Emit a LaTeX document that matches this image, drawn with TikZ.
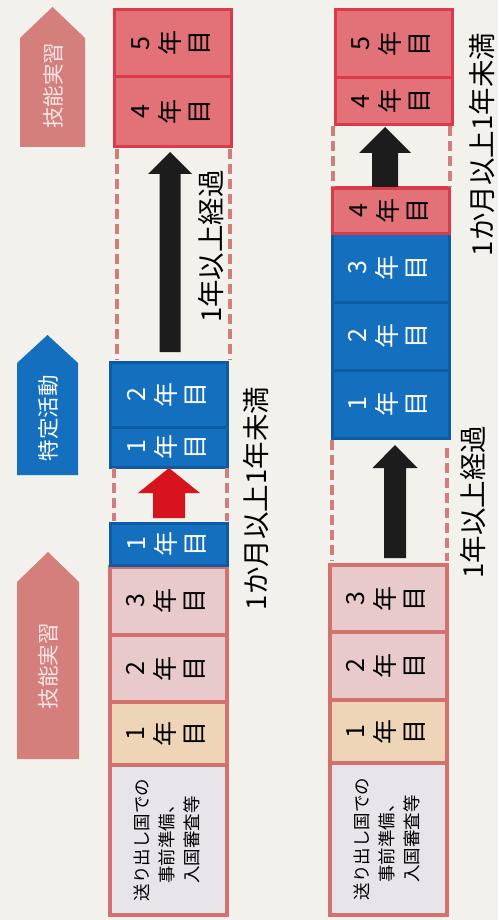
\documentclass[tikz,border=0pt]{standalone}
\usepackage{fontspec}
\setmainfont{Noto Sans CJK JP}
\usepackage{graphicx}
\usetikzlibrary{calc}
\definecolor{paper}{HTML}{F3F1EB}
\definecolor{redfill}{HTML}{E37178}
\definecolor{redline}{HTML}{DA3A4A}
\definecolor{bluefill}{HTML}{1470BE}
\definecolor{blueline}{HTML}{0D5AA5}
\definecolor{pinkfill}{HTML}{E8CACA}
\definecolor{salmon}{HTML}{D3716F}
\definecolor{beige}{HTML}{EFD5B8}
\definecolor{greyfill}{HTML}{E7E4EA}
\definecolor{rose}{HTML}{D47F7C}
\definecolor{roselight}{HTML}{F8E6E6}
\definecolor{dashcol}{HTML}{D27C7C}
\definecolor{redarrow}{HTML}{D7131E}
\definecolor{blackarrow}{HTML}{1C1C1C}
\newcommand{\yrfont}{\fontsize{25}{29}\selectfont}
\newcommand{\yr}[1]{\rotatebox{90}{\begin{tabular}{@{}c@{}}#1\\年\\目\end{tabular}}}
\newcommand{\rot}[1]{\rotatebox{90}{#1}}
% tip coordinate, base coordinate, shaft width, head width, head length, colour
\newcommand{\blockarrow}[6]{%
  \fill[#6] let \p1=(#1), \p2=(#2) in
    ({\x1-#3/2*1pt},\y2) -- ({\x1-#3/2*1pt},{\y1-#5*1pt}) -- ({\x1-#4/2*1pt},{\y1-#5*1pt})
    -- (\x1,\y1) -- ({\x1+#4/2*1pt},{\y1-#5*1pt}) -- ({\x1+#3/2*1pt},{\y1-#5*1pt})
    -- ({\x1+#3/2*1pt},\y2) -- cycle;}
\tikzset{
  box/.style={draw, inner sep=0pt, minimum width=117pt, font=\yrfont},
  redbox/.style={box, fill=redfill, draw=redline, line width=3pt, text=black},
  bluebox/.style={box, fill=bluefill, draw=blueline, line width=3pt, text=white},
  pinkbox/.style={box, fill=pinkfill, draw=salmon, line width=4.5pt, text=black},
  beigebox/.style={box, fill=beige, draw=salmon, line width=4.5pt, text=black},
  greybox/.style={box, fill=greyfill, draw=salmon, line width=4.5pt, text=black,
    font=\fontsize{17.5}{25}\selectfont},
  dashline/.style={draw=dashcol, line width=4.5pt, dash pattern=on 10pt off 5pt},
  sidelabel/.style={rotate=90, inner sep=0pt, font=\fontsize{27.5}{27.5}\selectfont, text=black},
  taglabel/.style={rotate=90, inner sep=0pt, font=\fontsize{21.5}{21.5}\selectfont, text=roselight},
}
\begin{document}
\begin{tikzpicture}[x=1pt,y=-1pt]
\fill[paper] (0,0) rectangle (498,920);
\useasboundingbox (0,0) rectangle (498,920);

% ---------- tag pentagons ----------
\fill[rose] (20,147) -- (20,38) -- (52.5,7) -- (85,38) -- (85,147) -- cycle;
\node[taglabel] (tagA) at (53,86) {技能実習};
\fill[bluefill] (17,475) -- (17,363) -- (47.5,335) -- (78,363) -- (78,475) -- cycle;
\node[taglabel, text=white] (tagB) at (48,418) {特定活動};
\fill[rose] (17,759) -- (17,582) -- (48,552) -- (79,582) -- (79,759) -- cycle;
\node[taglabel] (tagC) at (48,666) {技能実習};

% ---------- left column ----------
\node[greybox, minimum height=150pt] (Ls) at (168.5,840) {\rot{\begin{tabular}{@{}c@{}}送り出し国での\\事前準備、\\入国審査等\end{tabular}}};
\node[beigebox, minimum height=63pt] (L1) at (168.5,733.5) {\yr{1}};
\node[pinkbox, minimum height=67pt] (L2) at (168.5,668.5) {\yr{2}};
\node[pinkbox, minimum height=68pt] (L3) at (168.5,601) {\yr{3}};
\node[bluebox, minimum height=42pt] (Lb1) at (169,544) {\yr{1}};
\node[bluebox, minimum height=40pt] (LB1) at (169,447) {\yr{1}};
\node[bluebox, minimum height=65pt] (LB2) at (169,394.5) {\yr{2}};
\node[redbox, minimum height=70pt] (LR4) at (173,112) {\yr{4}};
\node[redbox, minimum height=67pt] (LR5) at (173,43.5) {\yr{5}};

\draw[dashline] (114,468) -- (114,521);
\draw[dashline] (227,468) -- (227,521);
\draw[dashline] (117,149) -- (117,360);
\draw[dashline] (230,149) -- (230,360);

\coordinate (LRt) at (169,468);
\coordinate (LRb) at (169,518);
\blockarrow{LRt}{LRb}{32}{62}{25}{redarrow}
\coordinate (LKt) at (170,152);
\coordinate (LKb) at (170,352);
\blockarrow{LKt}{LKb}{21}{44}{22}{blackarrow}

\node[sidelabel] (Ll1) at (211,246.5) {1年以上経過};
\node[sidelabel] (Ll2) at (256,498.5) {1か月以上1年未満};

% ---------- right column ----------
\node[greybox, minimum height=152pt] (Rs) at (388.5,839) {\rot{\begin{tabular}{@{}c@{}}送り出し国での\\事前準備、\\入国審査等\end{tabular}}};
\node[beigebox, minimum height=63pt] (R1) at (388.5,731.5) {\yr{1}};
\node[pinkbox, minimum height=68pt] (R2) at (388.5,666) {\yr{2}};
\node[pinkbox, minimum height=67pt] (R3) at (388.5,598.5) {\yr{3}};
\node[bluebox, minimum height=68pt] (RB1) at (390.5,404) {\yr{1}};
\node[bluebox, minimum height=68pt] (RB2) at (390.5,336) {\yr{2}};
\node[bluebox, minimum height=69pt] (RB3) at (390.5,267.5) {\yr{3}};
\node[redbox, minimum height=45pt] (Rr4) at (391,210.5) {\yr{4}};
\node[redbox, minimum height=47pt] (RR4) at (393.5,101.5) {\yr{4}};
\node[redbox, minimum height=68pt] (RR5) at (393.5,44) {\yr{5}};

\draw[dashline] (332,440) -- (332,561);
\draw[dashline] (447,448) -- (447,561);
\draw[dashline] (333,126) -- (333,187);
\draw[dashline] (450,126) -- (450,187);

\coordinate (RKt) at (395,445);
\coordinate (RKb) at (395,558);
\blockarrow{RKt}{RKb}{22}{45}{23}{blackarrow}
\coordinate (RUt) at (385,127);
\coordinate (RUb) at (385,187);
\blockarrow{RUt}{RUb}{26}{52}{26}{blackarrow}

\node[sidelabel] (Rl1) at (473,502) {1年以上経過};
\node[sidelabel] (Rl2) at (482,144.5) {1か月以上1年未満};
\end{tikzpicture}
\end{document}
